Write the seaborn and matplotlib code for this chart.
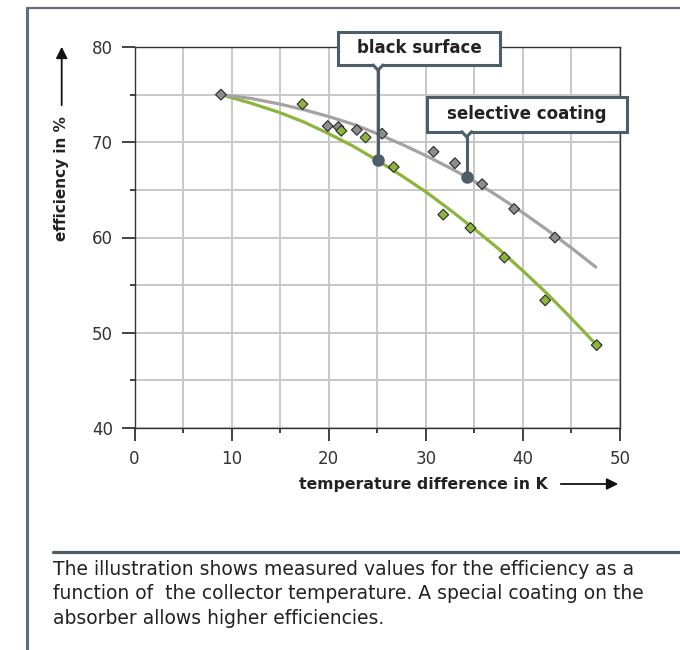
import numpy as np
import pandas as pd
import matplotlib
matplotlib.use('Agg')
import matplotlib.pyplot as plt
import seaborn as sns
from matplotlib.lines import Line2D
from matplotlib.patches import Rectangle, Polygon, FancyArrowPatch

# measured values, selective coating (grey diamonds)
sel_x = [8.9, 19.9, 21.0, 22.9, 25.5, 30.8, 33.0, 35.8, 39.1, 43.3]
sel_y = [75.0, 71.7, 71.6, 71.3, 70.9, 69.0, 67.8, 65.6, 63.0, 60.0]

# measured values, black surface (green diamonds)
blk_x = [17.3, 21.3, 23.8, 26.7, 31.8, 34.6, 38.1, 42.3, 47.6]
blk_y = [74.0, 71.2, 70.5, 67.4, 62.4, 61.0, 57.9, 53.4, 48.7]

# fitted curves
sel_fit_x = [8.9, 12, 15, 17.5, 20, 22.5, 25, 27.5, 30, 32.5, 35, 37.5, 40, 42.5, 45, 47.5]
sel_fit_y = [75.0, 74.6, 74.0, 73.4, 72.7, 71.9, 70.9, 69.8, 68.6, 67.3, 65.9, 64.3, 62.6, 60.8, 58.9, 56.9]
blk_fit_x = [8.9, 12, 15, 17.5, 20, 22.5, 25, 27.5, 30, 32.5, 35, 37.5, 40, 42.5, 45, 47.6]
blk_fit_y = [75.0, 74.1, 73.1, 72.1, 70.9, 69.6, 68.1, 66.5, 64.8, 62.9, 60.9, 58.8, 56.5, 54.1, 51.5, 48.7]

# callouts: label and the point on the curve it marks
callout_labels = ['black surface', 'selective coating']
callout_x = [25.08, 34.21]
callout_y = [68.1, 66.38]

x_ticks = [0, 10, 20, 30, 40, 50]
y_ticks = [40, 50, 60, 70, 80]

caption = ("The illustration shows measured values for the efficiency as a\n"
           "function of  the collector temperature. A special coating on the\n"
           "absorber allows higher efficiencies.")

GREEN = '#8db53c'
GREY_LINE = '#a3a3a3'
GREY_PT = '#8e8e8e'
SLATE = '#4e5e69'
FRAME = '#5f6e78'

sns.set_style('white')
plt.rcParams['font.family'] = ['DejaVu Sans']

fig = plt.figure(figsize=(6.8, 6.5), dpi=100)
ax = fig.add_axes([134.5 / 680, 1 - 428 / 650, 485.5 / 680, 381 / 650])

pts = pd.concat([
    pd.DataFrame({'dT': sel_x, 'eff': sel_y, 'surface': 'selective coating'}),
    pd.DataFrame({'dT': blk_x, 'eff': blk_y, 'surface': 'black surface'}),
])
fits = pd.concat([
    pd.DataFrame({'dT': sel_fit_x, 'eff': sel_fit_y, 'surface': 'selective coating'}),
    pd.DataFrame({'dT': blk_fit_x, 'eff': blk_fit_y, 'surface': 'black surface'}),
])

sns.lineplot(data=fits, x='dT', y='eff', hue='surface', sort=False, estimator=None,
             palette={'selective coating': GREY_LINE, 'black surface': GREEN},
             hue_order=['black surface', 'selective coating'],
             lw=2.3, legend=False, ax=ax, zorder=2)
sns.scatterplot(data=pts, x='dT', y='eff', hue='surface', marker='D', s=30,
                palette={'selective coating': GREY_PT, 'black surface': GREEN},
                hue_order=['black surface', 'selective coating'],
                edgecolor='#2a2a2a', linewidth=0.8, legend=False, ax=ax, zorder=3)

ax.set_xlim(0, 50)
ax.set_ylim(40, 80)
ax.set_xticks(x_ticks)
ax.set_yticks(y_ticks)
ax.set_xticks(np.arange(5, 50, 10), minor=True)
ax.set_yticks(np.arange(45, 80, 10), minor=True)
ax.grid(which='both', color='#c8c8c8', lw=1.4)
ax.set_axisbelow(True)
ax.tick_params(which='both', bottom=True, left=True, top=False, right=False)
ax.tick_params(which='major', direction='out', length=9.5, width=1.2, color='#222',
               labelsize=12, pad=6, labelcolor='#333')
ax.tick_params(which='minor', direction='out', length=3.8, width=1.2, color='#222')
for s in ax.spines.values():
    s.set_color('#333')
    s.set_linewidth(1.0)
ax.set_xlabel('')
ax.set_ylabel('')

# callout boxes
boxes = [(20.96, 78.11, 37.64, 81.61), (30.09, 71.11, 50.69, 74.78)]
for lab, px, py, (x0, y0, x1, y1) in zip(callout_labels, callout_x, callout_y, boxes):
    ax.add_patch(Rectangle((x0, y0), x1 - x0, y1 - y0, facecolor='white', edgecolor=SLATE,
                           lw=2.2, zorder=6, clip_on=False))
    ax.text((x0 + x1) / 2, (y0 + y1) / 2, lab, ha='center', va='center', fontsize=12,
            fontweight='bold', color='#222', zorder=8, clip_on=False)
    ax.add_patch(Polygon([(px - 0.5, y0 + 0.12), (px, y0 - 0.55), (px + 0.5, y0 + 0.12)],
                         closed=True, facecolor='white', edgecolor='none', zorder=7, clip_on=False))
    ax.plot([px - 0.5, px, px + 0.5], [y0, y0 - 0.55, y0], color=SLATE, lw=2.2,
            solid_joinstyle='miter', zorder=7, clip_on=False)
    ax.plot([px, px], [y0 - 0.55, py], color=SLATE, lw=2.2, zorder=5, clip_on=False)
    ax.plot([px], [py], marker='o', ms=8, color=SLATE, zorder=5, clip_on=False)

# axis labels with arrows
fig.text(61.7 / 680, 1 - 179 / 650, 'efficiency in %', rotation=90, ha='center', va='center',
         fontsize=11, fontweight='bold', color='#222')
fig.add_artist(FancyArrowPatch((61.7 / 680, 1 - 108 / 650), (61.7 / 680, 1 - 44 / 650),
                               transform=fig.transFigure, arrowstyle='-|>', mutation_scale=17,
                               lw=1.3, color='#111'))
fig.text(548 / 680, 1 - 484 / 650, 'temperature difference in K', ha='right', va='center',
         fontsize=11.3, fontweight='bold', color='#222')
fig.add_artist(FancyArrowPatch((558 / 680, 1 - 484 / 650), (621 / 680, 1 - 484 / 650),
                               transform=fig.transFigure, arrowstyle='-|>', mutation_scale=17,
                               lw=1.3, color='#111'))

# frame and caption
fig.add_artist(Line2D([27 / 680, 27 / 680], [0, 1 - 8 / 650], transform=fig.transFigure,
                      color=FRAME, lw=2.2))
fig.add_artist(Line2D([27 / 680, 1], [1 - 8 / 650, 1 - 8 / 650], transform=fig.transFigure,
                      color=FRAME, lw=1.6))
fig.add_artist(Line2D([53 / 680, 1], [1 - 551.5 / 650, 1 - 551.5 / 650], transform=fig.transFigure,
                      color=SLATE, lw=2.3))
fig.text(53 / 680, 1 - 560 / 650, caption, ha='left', va='top', fontsize=13.5, color='#222',
         linespacing=1.36)

fig.savefig('out.png', dpi=100)
